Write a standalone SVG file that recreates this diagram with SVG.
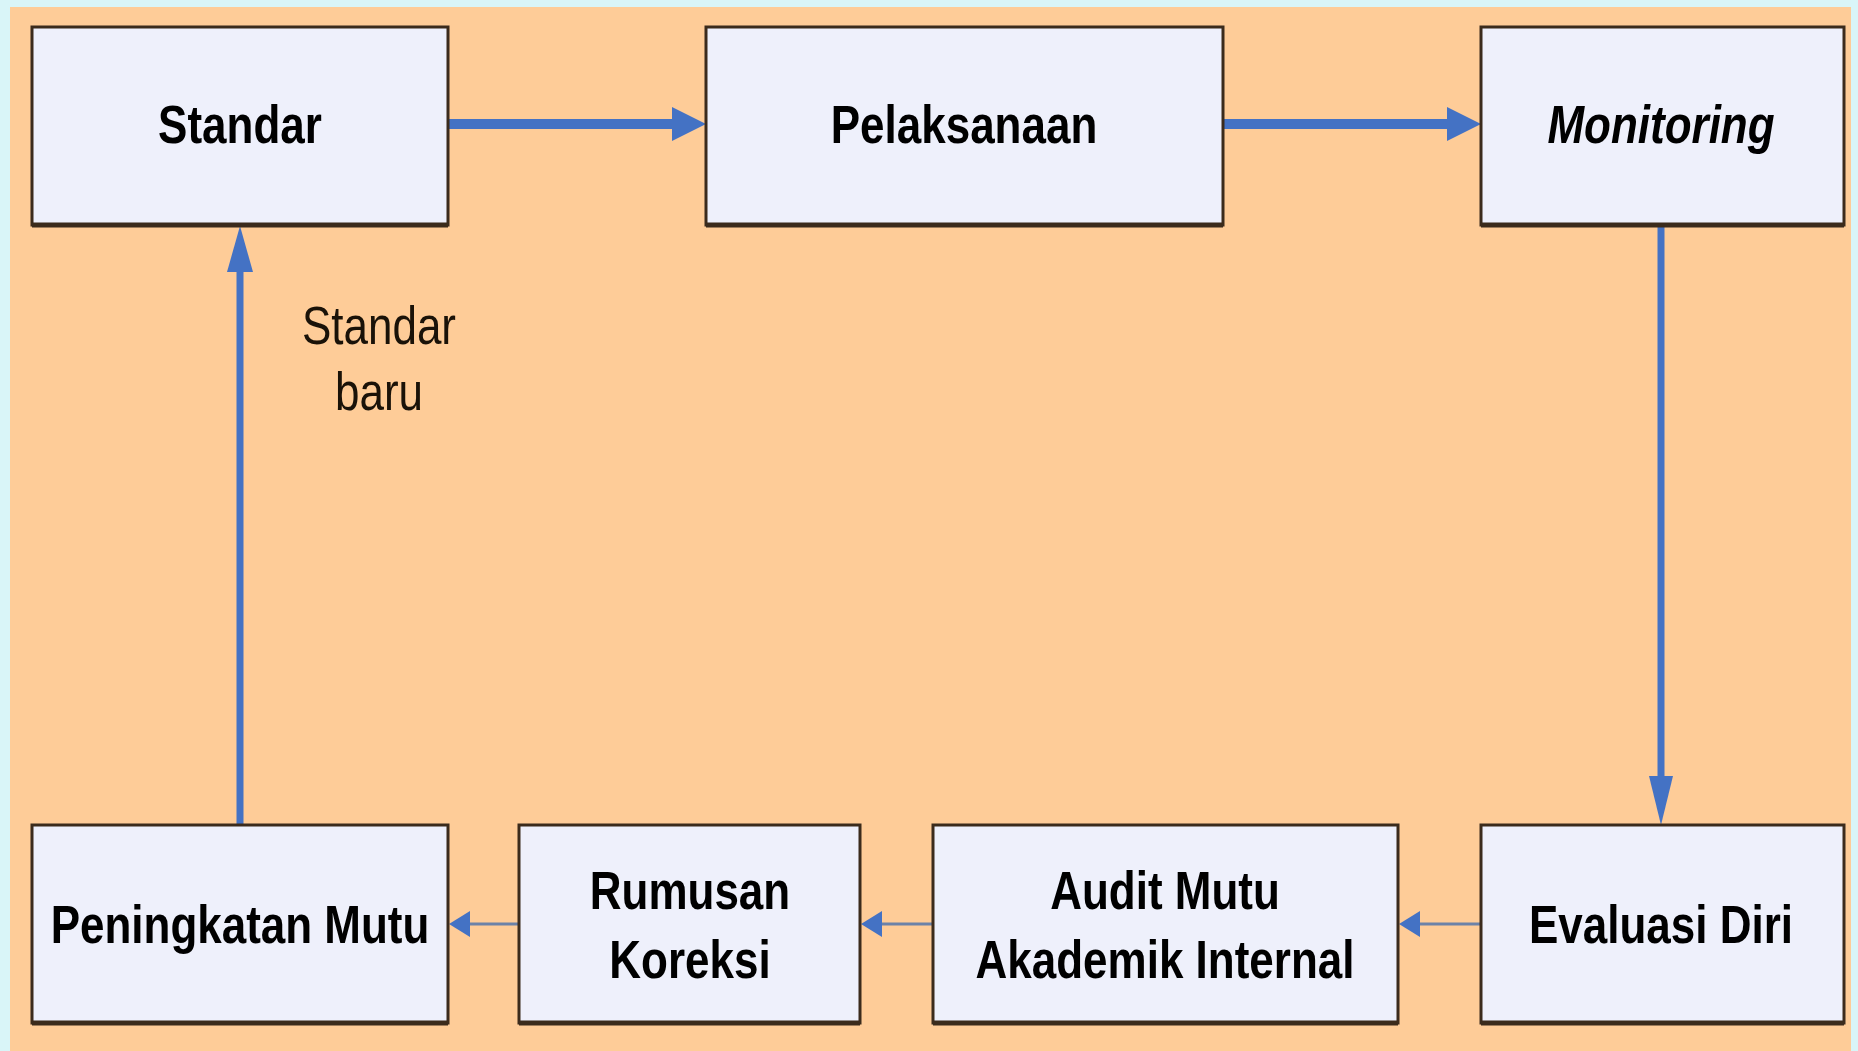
<svg xmlns="http://www.w3.org/2000/svg" width="1858" height="1051" viewBox="0 0 1858 1051">
  <style>
    .box { fill: #EEF0FB; stroke: #3B2B1C; stroke-width: 3; }
    .shadow { stroke: #3B2B1C; stroke-width: 5; }
    .lbl { font-family: "Liberation Sans", Arial, sans-serif; font-weight: bold; font-size: 44px; fill: #000; text-anchor: middle; }
    .note { font-family: "Liberation Sans", Arial, sans-serif; font-size: 44px; fill: #1a1208; text-anchor: middle; }
    .thick { stroke: #4472C4; stroke-width: 10; fill: none; }
    .mid { stroke: #4472C4; stroke-width: 7; fill: none; }
    .thin { stroke: #6C82A8; stroke-width: 3; fill: none; }
    .head { fill: #4472C4; }
  </style>
  <rect x="0" y="0" width="1858" height="1051" fill="#D9F5F8"/>
  <rect x="10" y="7" width="1841" height="1044" fill="#FECC98"/>

  <g id="connectors">
    <line class="thick" x1="446" y1="124" x2="680" y2="124"/>
    <polygon class="head" points="706,124 672,107 672,141"/>
    <line class="thick" x1="1221" y1="124" x2="1455" y2="124"/>
    <polygon class="head" points="1481,124 1447,107 1447,141"/>
    <line class="mid" x1="1661" y1="224" x2="1661" y2="790"/>
    <polygon class="head" points="1661,825 1649,776 1673,776"/>
    <line class="mid" x1="240" y1="826" x2="240" y2="258"/>
    <polygon class="head" points="240,226 227,272 253,272"/>
    <line class="thin" x1="1481" y1="924" x2="1412" y2="924"/>
    <polygon class="head" points="1399,924 1420,911 1420,937"/>
    <line class="thin" x1="933" y1="924" x2="874" y2="924"/>
    <polygon class="head" points="861,924 882,911 882,937"/>
    <line class="thin" x1="519" y1="924" x2="462" y2="924"/>
    <polygon class="head" points="449,924 470,911 470,937"/>
  </g>

  <g id="label-standar-baru">
    <g transform="translate(379,344) scale(1,1.2)"><text class="note" x="0" y="0">Standar</text></g>
    <g transform="translate(379,410) scale(1,1.2)"><text class="note" x="0" y="0">baru</text></g>
  </g>

  <g id="node-standar">
    <rect class="box" x="32" y="27" width="416" height="198"/>
    <line class="shadow" x1="32" y1="225" x2="448" y2="225"/>
    <g transform="translate(240,143) scale(1,1.2)"><text class="lbl" x="0" y="0">Standar</text></g>
  </g>
  <g id="node-pelaksanaan">
    <rect class="box" x="706" y="27" width="517" height="198"/>
    <line class="shadow" x1="706" y1="225" x2="1223" y2="225"/>
    <g transform="translate(964,143) scale(1,1.2)"><text class="lbl" x="0" y="0">Pelaksanaan</text></g>
  </g>
  <g id="node-monitoring">
    <rect class="box" x="1481" y="27" width="363" height="198"/>
    <line class="shadow" x1="1481" y1="225" x2="1844" y2="225"/>
    <g transform="translate(1661,143) scale(1,1.2)"><text class="lbl" x="0" y="0" font-style="italic">Monitoring</text></g>
  </g>
  <g id="node-evaluasi">
    <rect class="box" x="1481" y="825" width="363" height="198"/>
    <line class="shadow" x1="1481" y1="1023" x2="1844" y2="1023"/>
    <g transform="translate(1661,943) scale(1,1.2)"><text class="lbl" x="0" y="0">Evaluasi Diri</text></g>
  </g>
  <g id="node-audit">
    <rect class="box" x="933" y="825" width="465" height="198"/>
    <line class="shadow" x1="933" y1="1023" x2="1398" y2="1023"/>
    <g transform="translate(1165,909) scale(1,1.2)"><text class="lbl" x="0" y="0">Audit Mutu</text></g>
    <g transform="translate(1165,978) scale(1,1.2)"><text class="lbl" x="0" y="0">Akademik Internal</text></g>
  </g>
  <g id="node-rumusan">
    <rect class="box" x="519" y="825" width="341" height="198"/>
    <line class="shadow" x1="519" y1="1023" x2="860" y2="1023"/>
    <g transform="translate(690,909) scale(1,1.2)"><text class="lbl" x="0" y="0">Rumusan</text></g>
    <g transform="translate(690,978) scale(1,1.2)"><text class="lbl" x="0" y="0">Koreksi</text></g>
  </g>
  <g id="node-peningkatan">
    <rect class="box" x="32" y="825" width="416" height="198"/>
    <line class="shadow" x1="32" y1="1023" x2="448" y2="1023"/>
    <g transform="translate(240,943) scale(1,1.2)"><text class="lbl" x="0" y="0">Peningkatan Mutu</text></g>
  </g>
</svg>
